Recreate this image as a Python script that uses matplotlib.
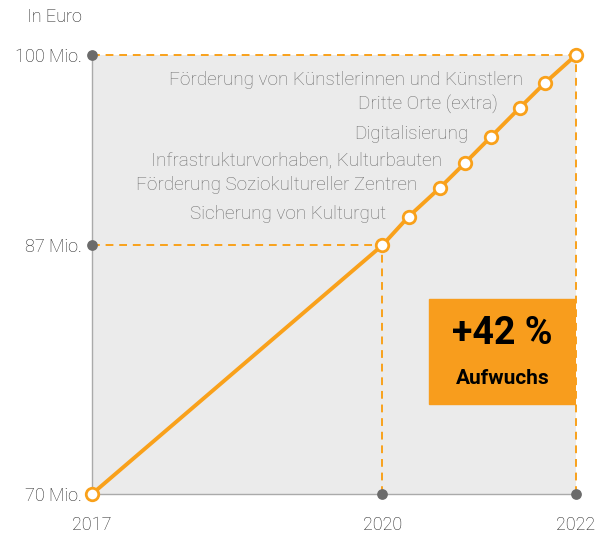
import matplotlib.pyplot as plt
from matplotlib.patches import Rectangle

# budget path in million euro
years = [2017, 2020, 2020.27, 2020.59, 2020.85, 2021.12, 2021.42, 2021.68, 2022]
values = [70, 87, 88.95, 90.9, 92.6, 94.4, 96.4, 98.1, 100]
point_labels = ["", "",
                "Sicherung von Kulturgut",
                "Förderung Soziokultureller Zentren",
                "Infrastrukturvorhaben, Kulturbauten",
                "Digitalisierung",
                "Dritte Orte (extra)",
                "Förderung von Künstlerinnen und Künstlern",
                ""]
x_ticks = [2017, 2020, 2022]
y_ticks = [70, 87, 100]
y_tick_labels = ["70 Mio.", "87 Mio.", "100 Mio."]
growth_text = "+42 %"
growth_sub = "Aufwuchs"

ORANGE = "#F9A11B"
plt.rcParams['font.family'] = ['Roboto', 'DejaVu Sans']

fig = plt.figure(figsize=(6.11, 5.40), dpi=100)
ax = fig.add_axes([92 / 611, 1 - 494 / 540, 484 / 611, 439 / 540])
ax.set_facecolor("#ebebeb")
ax.set_xlim(2017, 2022)
ax.set_ylim(70, 100)

for s in ["top", "right"]:
    ax.spines[s].set_visible(False)
for s in ["left", "bottom"]:
    ax.spines[s].set_color("#aaaaaa")
    ax.spines[s].set_linewidth(1)

# dashed guide lines to the key values
dash = dict(color=ORANGE, lw=1.4, ls=(0, (4, 3)), clip_on=False, zorder=2)
ax.plot([x_ticks[0], x_ticks[2]], [y_ticks[2], y_ticks[2]], **dash)
ax.plot([x_ticks[2], x_ticks[2]], [y_ticks[0], y_ticks[2]], **dash)
ax.plot([x_ticks[0], x_ticks[1]], [y_ticks[1], y_ticks[1]], **dash)
ax.plot([x_ticks[1], x_ticks[1]], [y_ticks[0], y_ticks[1]], **dash)

# grey dots on the axes
ax.scatter([x_ticks[0]] * 2, y_ticks[1:], s=45, color="#6b6b6b", zorder=4, clip_on=False)
ax.scatter(x_ticks[1:], [y_ticks[0]] * 2, s=45, color="#6b6b6b", zorder=4, clip_on=False)

ax.plot(years, values, color=ORANGE, lw=2.8, marker="o", ms=9, mfc="white",
        mec=ORANGE, mew=2, zorder=5, clip_on=False)

for x, y, lab in zip(years, values, point_labels):
    if lab:
        ax.annotate(lab, (x, y), xytext=(-16, 2), textcoords="offset points",
                    ha="right", va="center", fontsize=13.6, color="#6e6e6e",
                    fontweight="light")

ax.set_xticks(x_ticks)
ax.set_xticklabels([str(t) for t in x_ticks])
ax.set_yticks(y_ticks)
ax.set_yticklabels(y_tick_labels)
ax.tick_params(length=0, labelsize=13, colors="#222222")
ax.tick_params(axis="x", pad=16)
ax.tick_params(axis="y", pad=7)
for t in ax.get_xticklabels() + ax.get_yticklabels():
    t.set_fontweight("light")

fig.text(82 / 611, 1 - 17 / 540, "In Euro", ha="right", va="center",
         fontsize=13, color="#222222", fontweight="light")

# growth box
ax.add_patch(Rectangle((0.696, 0.205), 0.304, 0.239, transform=ax.transAxes,
                       color="#F89D1D", zorder=6))
ax.text(0.848, 0.366, growth_text, transform=ax.transAxes, ha="center", va="center",
        fontsize=27, fontweight="bold", color="black", zorder=7)
ax.text(0.848, 0.262, growth_sub, transform=ax.transAxes, ha="center", va="center",
        fontsize=15, fontweight="bold", color="black", zorder=7)

fig.savefig("out.png", dpi=100)
